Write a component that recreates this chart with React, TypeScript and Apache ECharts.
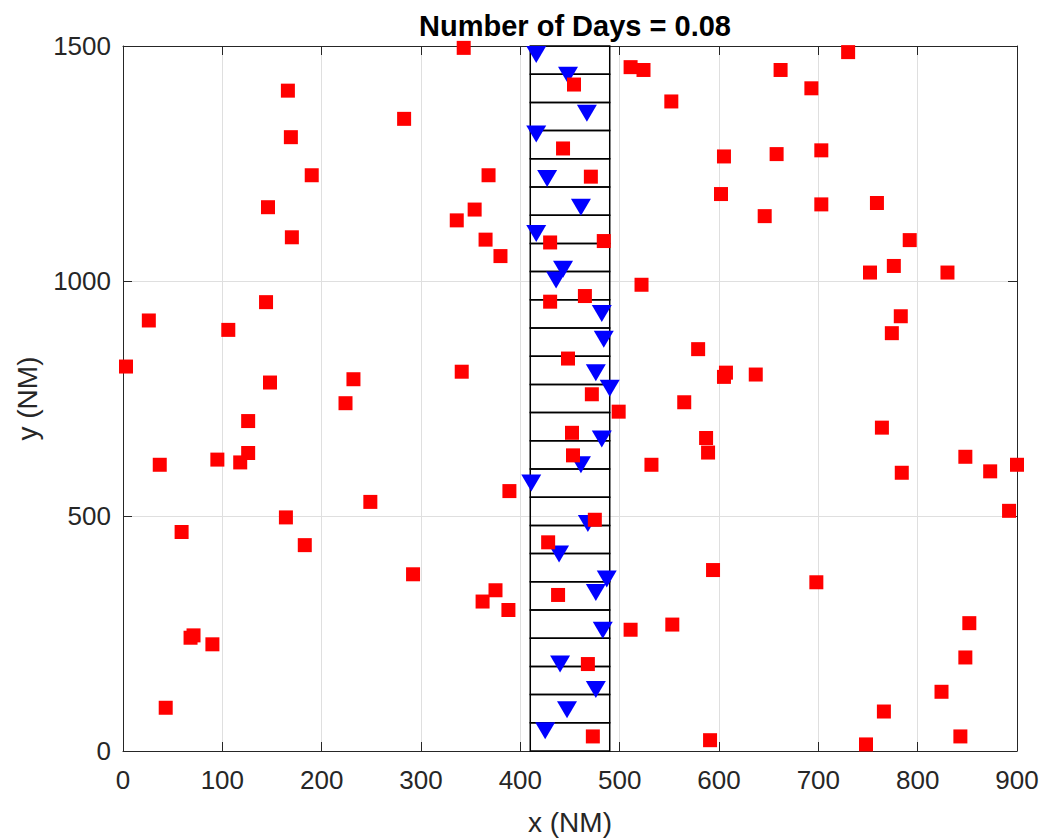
import React, { useEffect, useRef } from "react";
import * as echarts from "echarts";

const titleText = "Number of Days = 0.08";
const xName = "x (NM)";
const yName = "y (NM)";

const xTicks = { min: 0, max: 900, interval: 100 };
const yTicks = { min: 0, max: 1500, interval: 500 };

// box column (NM) and strip edges (NM)
const boxX = [410, 490];
const stripEdges = [0, 60, 120, 180, 240, 300, 360, 420, 480, 540, 600, 660, 720, 780, 840, 900, 960, 1020, 1080, 1140, 1200, 1260, 1320, 1380, 1440, 1500];

// red squares
const redPoints: number[][] = [
  [343, 1496], [166, 1405], [283, 1345], [169, 1306], [190, 1225], [368, 1225], [146, 1157], [354, 1152],
  [336, 1129], [170, 1093], [365, 1088], [380, 1053], [144, 955], [26, 916], [106, 896], [3, 818],
  [148, 784], [341, 807], [232, 791], [224, 740], [126, 702], [37, 609], [95, 620], [126, 634],
  [118, 614], [389, 553], [249, 530], [164, 497], [59, 466], [183, 438], [292, 376], [375, 342],
  [362, 318], [388, 300], [68, 241], [71, 246], [90, 227], [43, 92],
  [730, 1487], [511, 1455], [524, 1449], [662, 1449], [454, 1418], [693, 1410], [552, 1382], [443, 1282],
  [605, 1265], [658, 1270], [703, 1278], [471, 1222], [602, 1185], [703, 1163], [759, 1166], [646, 1138],
  [792, 1087], [430, 1082], [484, 1085], [776, 1032], [752, 1018], [830, 1018], [522, 992], [465, 968],
  [430, 956], [783, 925], [774, 889], [579, 855], [448, 835], [605, 796], [607, 805], [637, 801],
  [472, 759], [565, 742], [499, 722],
  [764, 688], [452, 677], [587, 666], [589, 635], [453, 629], [848, 626], [532, 609], [784, 592],
  [873, 595], [900, 609], [892, 511], [475, 492], [428, 444], [594, 385], [698, 359], [438, 332],
  [852, 272], [553, 269], [511, 258], [468, 185], [848, 199], [824, 126], [766, 84], [473, 31],
  [591, 23], [843, 31], [748, 14],
];

// blue triangles (one per strip)
const bluePoints: number[][] = [
  [416, 1482], [448, 1438], [467, 1357], [416, 1313], [427, 1218], [461, 1157], [416, 1101], [443, 1025],
  [436, 1002], [482, 931], [484, 876], [476, 805], [490, 772], [482, 664], [461, 609], [411, 570],
  [468, 484], [439, 419], [487, 366], [476, 337], [483, 257], [440, 185], [476, 131], [447, 88], [425, 43],
];

const FONT = "'Liberation Sans', Arial, Helvetica, sans-serif";
const AXIS_COLOR = "#262626";

export default function App() {
  const ref = useRef<HTMLDivElement>(null);

  useEffect(() => {
    if (!ref.current) return;
    const chart = echarts.init(ref.current, undefined, { renderer: "svg" });

    const strips: number[][] = [];
    for (let i = 0; i < stripEdges.length - 1; i++) strips.push([stripEdges[i], stripEdges[i + 1]]);

    const gridL = 123, gridT = 46, gridW = 894, gridH = 705;
    const plain = (v: number) => String(v);

    const baseX = {
      type: "value" as const,
      min: xTicks.min,
      max: xTicks.max,
      interval: xTicks.interval,
      axisLine: { show: true, onZero: false, lineStyle: { color: AXIS_COLOR, width: 1 } },
      axisTick: { show: true, inside: true, length: 9, lineStyle: { color: AXIS_COLOR } },
    };
    const baseY = {
      type: "value" as const,
      min: yTicks.min,
      max: yTicks.max,
      interval: yTicks.interval,
      axisLine: { show: true, onZero: false, lineStyle: { color: AXIS_COLOR, width: 1 } },
      axisTick: { show: true, inside: true, length: 9, lineStyle: { color: AXIS_COLOR } },
    };

    chart.setOption({
      animation: false,
      backgroundColor: "#ffffff",
      title: {
        text: titleText,
        left: gridL + gridW / 2,
        top: 6,
        textAlign: "center",
        textStyle: { fontFamily: FONT, fontSize: 29, fontWeight: "bold", color: "#000" },
      },
      grid: { left: gridL, top: gridT, width: gridW, height: gridH, containLabel: false },
      xAxis: [
        {
          ...baseX,
          position: "bottom",
          axisLabel: { show: true, fontFamily: FONT, fontSize: 26, color: AXIS_COLOR, margin: 16, formatter: plain },
          splitLine: { show: true, lineStyle: { color: "#dfdfdf", width: 1 } },
        },
        {
          ...baseX,
          position: "top",
          axisLabel: { show: false },
          splitLine: { show: false },
        },
      ],
      yAxis: [
        {
          ...baseY,
          position: "left",
          axisLabel: { show: true, fontFamily: FONT, fontSize: 26, color: AXIS_COLOR, margin: 12, formatter: plain },
          splitLine: { show: true, lineStyle: { color: "#dfdfdf", width: 1 } },
        },
        {
          ...baseY,
          position: "right",
          axisLabel: { show: false },
          splitLine: { show: false },
        },
      ],
      graphic: [
        {
          type: "text",
          x: gridL + gridW / 2,
          y: 822,
          style: { text: xName, align: "center", verticalAlign: "middle", font: `28px ${FONT}`, fill: AXIS_COLOR },
        },
        {
          type: "text",
          x: 27,
          y: gridT + gridH / 2,
          rotation: Math.PI / 2,
          style: { text: yName, align: "center", verticalAlign: "middle", font: `28px ${FONT}`, fill: AXIS_COLOR },
        },
      ],
      series: [
        {
          type: "custom",
          xAxisIndex: 0,
          yAxisIndex: 0,
          clip: false,
          z: 1,
          data: strips,
          encode: { y: [0, 1] },
          renderItem: (_params: any, api: any) => {
            const lo = api.value(0);
            const hi = api.value(1);
            const p1 = api.coord([boxX[0], hi]);
            const p2 = api.coord([boxX[1], lo]);
            return {
              type: "rect",
              shape: { x: p1[0], y: p1[1], width: p2[0] - p1[0], height: p2[1] - p1[1] },
              style: { fill: "none", stroke: "#000000", lineWidth: 1.5 },
            };
          },
        },
        {
          type: "scatter",
          xAxisIndex: 0,
          yAxisIndex: 0,
          clip: false,
          z: 2,
          symbol: "triangle",
          symbolRotate: 180,
          symbolSize: [20, 17],
          itemStyle: { color: "#0000ff", opacity: 1 },
          data: bluePoints,
        },
        {
          type: "scatter",
          xAxisIndex: 0,
          yAxisIndex: 0,
          clip: false,
          z: 3,
          symbol: "rect",
          symbolSize: 14,
          itemStyle: { color: "#ff0000", opacity: 1 },
          data: redPoints,
        },
      ],
    });

    return () => {
      chart.dispose();
    };
  }, []);

  return (
    <div
      ref={ref}
      style={{ position: "fixed", left: 0, top: 0, width: 1042, height: 838, background: "#fff" }}
    />
  );
}
